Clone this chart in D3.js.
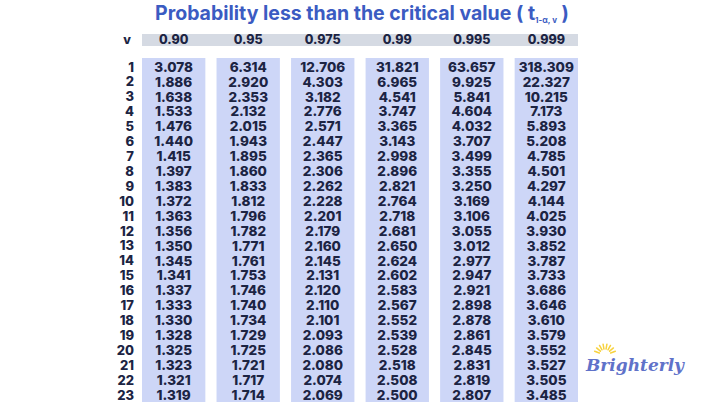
<!DOCTYPE html>
<html>
<head>
<meta charset="utf-8">
<script src="https://cdn.jsdelivr.net/npm/d3@7"></script>
<style>
  body { margin: 0; background: #fff; }
  svg text { font-family: Inter, "Noto Sans", sans-serif; }
</style>
</head>
<body>
<div id="chart"></div>
<script>
const probs = ["0.90", "0.95", "0.975", "0.99", "0.995", "0.999"];
const dof = d3.range(1, 24);

const p090  = [3.078, 1.886, 1.638, 1.533, 1.476, 1.440, 1.415, 1.397, 1.383, 1.372, 1.363, 1.356, 1.350, 1.345, 1.341, 1.337, 1.333, 1.330, 1.328, 1.325, 1.323, 1.321, 1.319];
const p095  = [6.314, 2.920, 2.353, 2.132, 2.015, 1.943, 1.895, 1.860, 1.833, 1.812, 1.796, 1.782, 1.771, 1.761, 1.753, 1.746, 1.740, 1.734, 1.729, 1.725, 1.721, 1.717, 1.714];
const p0975 = [12.706, 4.303, 3.182, 2.776, 2.571, 2.447, 2.365, 2.306, 2.262, 2.228, 2.201, 2.179, 2.160, 2.145, 2.131, 2.120, 2.110, 2.101, 2.093, 2.086, 2.080, 2.074, 2.069];
const p099  = [31.821, 6.965, 4.541, 3.747, 3.365, 3.143, 2.998, 2.896, 2.821, 2.764, 2.718, 2.681, 2.650, 2.624, 2.602, 2.583, 2.567, 2.552, 2.539, 2.528, 2.518, 2.508, 2.500];
const p0995 = [63.657, 9.925, 5.841, 4.604, 4.032, 3.707, 3.499, 3.355, 3.250, 3.169, 3.106, 3.055, 3.012, 2.977, 2.947, 2.921, 2.898, 2.878, 2.861, 2.845, 2.831, 2.819, 2.807];
const p0999 = [318.309, 22.327, 10.215, 7.173, 5.893, 5.208, 4.785, 4.501, 4.297, 4.144, 4.025, 3.930, 3.852, 3.787, 3.733, 3.686, 3.646, 3.610, 3.579, 3.552, 3.527, 3.505, 3.485];

const columns = [p090, p095, p0975, p099, p0995, p0999];

const width = 720, height = 410;
const ink = "#1c2443";
const fmt = d3.format(".3f");

const svg = d3.select("#chart").append("svg")
  .attr("width", width)
  .attr("height", height);

// title
const title = svg.append("text")
  .attr("x", 362)
  .attr("y", 20)
  .attr("text-anchor", "middle")
  .style("font-size", "19.5px")
  .style("font-weight", "700")
  .style("fill", "#3b5bc2");
title.append("tspan").text("Probability less than the critical value ( t");
title.append("tspan").attr("dy", 3).style("font-size", "8px").text("1-α, v");
title.append("tspan").attr("dy", -3).text(" )");

const x = d3.scaleBand()
  .domain(probs)
  .range([142, 578])
  .paddingInner(0.15);

const y = d3.scaleLinear()
  .domain([1, 23])
  .range([67, 395]);

// header bar
svg.append("rect")
  .attr("x", x.range()[0])
  .attr("y", 34)
  .attr("width", x.range()[1] - x.range()[0])
  .attr("height", 12)
  .style("fill", "#d5dae3");

svg.append("text")
  .attr("x", 127)
  .attr("y", 40)
  .attr("dy", "0.35em")
  .attr("text-anchor", "middle")
  .style("font-size", "12.5px")
  .style("font-weight", "800")
  .style("fill", ink)
  .text("v");

svg.selectAll(".head")
  .data(probs)
  .enter().append("text")
  .attr("class", "head")
  .attr("x", d => x(d) + x.bandwidth() / 2)
  .attr("y", 40)
  .attr("dy", "0.35em")
  .attr("text-anchor", "middle")
  .style("font-size", "12.5px")
  .style("font-weight", "800")
  .style("fill", ink)
  .text(d => d);

// column backgrounds
svg.selectAll(".col")
  .data(probs)
  .enter().append("rect")
  .attr("class", "col")
  .attr("x", d => x(d))
  .attr("y", y(1) - 9)
  .attr("width", x.bandwidth())
  .attr("height", y(23) - y(1) + 16)
  .style("fill", "#cdd6f7");

// degrees of freedom labels
svg.selectAll(".dof")
  .data(dof)
  .enter().append("text")
  .attr("class", "dof")
  .attr("x", 134)
  .attr("y", d => y(d))
  .attr("dy", "0.35em")
  .attr("text-anchor", "end")
  .style("font-size", "13px")
  .style("font-weight", "800")
  .style("fill", ink)
  .text(d => d);

// values
columns.forEach((vals, i) => {
  svg.selectAll(".v" + i)
    .data(vals)
    .enter().append("text")
    .attr("class", "v" + i)
    .attr("x", x(probs[i]) + x.bandwidth() / 2)
    .attr("y", (d, j) => y(dof[j]))
    .attr("dy", "0.35em")
    .attr("text-anchor", "middle")
    .style("font-size", "13.5px")
    .style("font-weight", "800")
    .style("fill", ink)
    .text(d => fmt(d));
});

// logo
const logo = svg.append("g").attr("transform", "translate(586,371)");
const rays = d3.range(-70, 71, 20);
logo.selectAll("line")
  .data(rays)
  .enter().append("line")
  .attr("x1", d => 19 + Math.sin(d * Math.PI / 180) * 6)
  .attr("y1", d => -16 - Math.cos(d * Math.PI / 180) * 6)
  .attr("x2", d => 19 + Math.sin(d * Math.PI / 180) * 11)
  .attr("y2", d => -16 - Math.cos(d * Math.PI / 180) * 11)
  .style("stroke", "#f7d23e")
  .style("stroke-width", 1.5)
  .style("stroke-linecap", "round");
logo.append("text")
  .attr("x", 0)
  .attr("y", 0)
  .style("font-family", "'DejaVu Serif', serif")
  .style("font-style", "italic")
  .style("font-weight", "700")
  .style("font-size", "17px")
  .style("fill", "#6072c9")
  .text("Brighterly");
</script>
</body>
</html>
